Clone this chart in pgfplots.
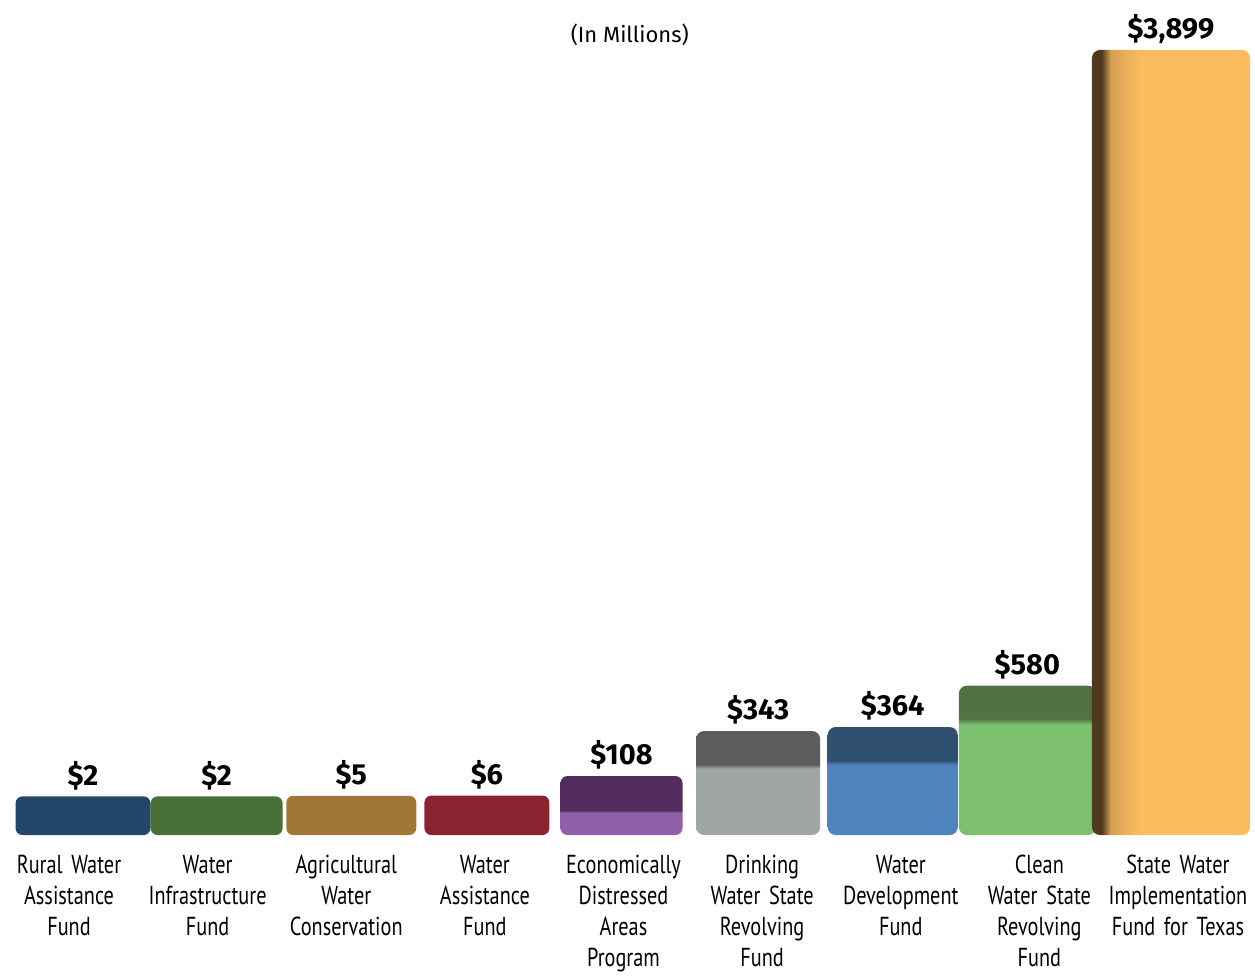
\documentclass[border=0pt]{standalone}
\usepackage{fontspec}
\setmainfont{Fira Sans}
\newfontfamily\condensed[FakeStretch=0.78,WordSpace=0.6]{PT Sans}
\usepackage{pgfplots}
\pgfplotsset{compat=1.18}
\definecolor{cA}{HTML}{24466B}
\definecolor{cB}{HTML}{4A7039}
\definecolor{cC}{HTML}{A27636}
\definecolor{cD}{HTML}{8A2330}
\definecolor{cEtop}{HTML}{522C5C}
\definecolor{cE}{HTML}{9060AA}
\definecolor{cFtop}{HTML}{5B5D5D}
\definecolor{cF}{HTML}{A0A6A6}
\definecolor{cGtop}{HTML}{2F5070}
\definecolor{cG}{HTML}{4F83BE}
\definecolor{cHtop}{HTML}{4F7343}
\definecolor{cH}{HTML}{7DC06F}
\definecolor{cI}{HTML}{FBBC60}
\definecolor{cIside}{HTML}{4F3A1E}
\pgfdeclareverticalshading{shE}{100bp}{color(0bp)=(cE); color(44bp)=(cE); color(46bp)=(cEtop); color(100bp)=(cEtop)}
\pgfdeclareverticalshading{shF}{100bp}{color(0bp)=(cF); color(57bp)=(cF); color(59bp)=(cFtop); color(100bp)=(cFtop)}
\pgfdeclareverticalshading{shG}{100bp}{color(0bp)=(cG); color(57.5bp)=(cG); color(59.5bp)=(cGtop); color(100bp)=(cGtop)}
\pgfdeclareverticalshading{shH}{100bp}{color(0bp)=(cH); color(62bp)=(cH); color(64bp)=(cHtop); color(100bp)=(cHtop)}
\pgfdeclarehorizontalshading{shI}{100bp}{color(0bp)=(cIside); color(28bp)=(cIside); color(31bp)=(cI!85!black); color(40bp)=(cI); color(100bp)=(cI)}
\begin{document}
\begin{tikzpicture}
\begin{axis}[
  scale only axis, width=1247pt, height=835pt,
  xmin=-0.498, xmax=8.498, ymin=0, ymax=4360,
  y filter/.expression={y+200},
  ybar,
  axis line style={draw=none}, major tick style={draw=none}, ytick=\empty,
  xtick={0,...,8},
  xticklabels={{Rural Water\\Assistance\\Fund},{Water\\Infrastructure\\Fund},{Agricultural\\Water\\Conservation},{Water\\Assistance\\Fund},{Economically\\Distressed\\Areas\\Program},{Drinking\\Water State\\Revolving\\Fund},{Water\\Development\\Fund},{Clean\\Water State\\Revolving\\Fund},{State Water\\Implementation\\Fund for Texas}},
  xticklabel style={font=\condensed\fontsize{26}{31}\selectfont, align=center, text width=150pt, anchor=north, yshift=-12pt},
  point meta=explicit symbolic,
  nodes near coords,
  every node near coord/.append style={font=\bfseries\fontsize{29}{32}\selectfont, anchor=south, yshift=3pt, text=black},
  clip=false,
]
\addplot[fill=cA, draw=none, bar width=135pt, bar shift=14pt, rounded corners=7pt] coordinates {(0,2) [\$2]};
\addplot[fill=cB, draw=none, bar width=132pt, bar shift=9pt, rounded corners=7pt] coordinates {(1,2) [\$2]};
\addplot[fill=cC, draw=none, bar width=130pt, bar shift=5pt, rounded corners=7pt] coordinates {(2,5) [\$5]};
\addplot[fill=cD, draw=none, bar width=125pt, bar shift=2pt, rounded corners=7pt] coordinates {(3,6) [\$6]};
\addplot[shade, shading=shE, draw=none, bar width=122pt, bar shift=-2pt, rounded corners=7pt] coordinates {(4,108) [\$108]};
\addplot[shade, shading=shF, draw=none, bar width=124pt, bar shift=-4pt, rounded corners=8pt] coordinates {(5,343) [\$343]};
\addplot[shade, shading=shG, draw=none, bar width=130pt, bar shift=-8pt, rounded corners=8pt] coordinates {(6,364) [\$364]};
\addplot[shade, shading=shH, draw=none, bar width=137pt, bar shift=-12pt, rounded corners=8pt] coordinates {(7,580) [\$580]};
\addplot[shade, shading=shI, draw=none, bar width=158pt, bar shift=-7pt, rounded corners=8pt] coordinates {(8,3899) [\$3,899]};
\node[font=\fontsize{22}{26}\selectfont] at (rel axis cs:0.505,0.958) {(In Millions)};
\coordinate (sw) at (rel axis cs:0,0);
\coordinate (ne) at (rel axis cs:1,1);
\end{axis}
\pgfresetboundingbox
\useasboundingbox ([yshift=-142pt]sw) rectangle ([xshift=8pt]ne);
\end{tikzpicture}
\end{document}
